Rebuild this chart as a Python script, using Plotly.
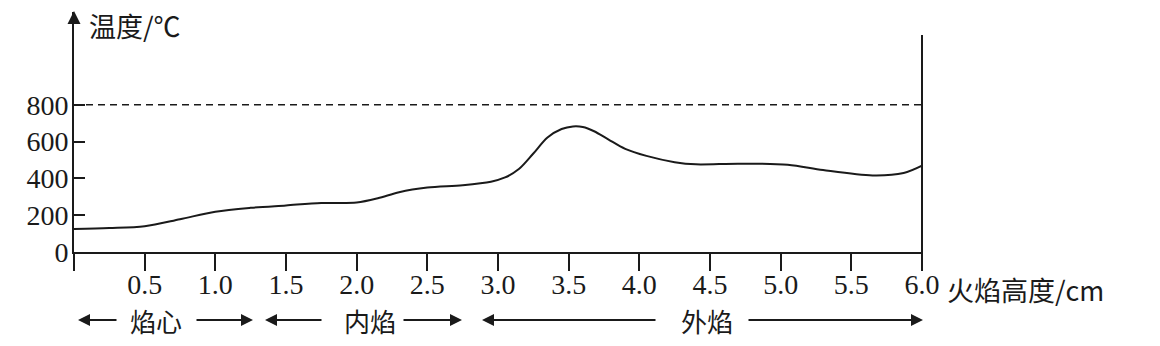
import plotly.graph_objects as go

# ---- data ----
height_cm = [0, 0.25, 0.5, 0.75, 1.0, 1.25, 1.5, 1.75, 2.0, 2.15, 2.3, 2.5, 2.75, 2.95,
             3.05, 3.15, 3.25, 3.35, 3.45, 3.53, 3.6, 3.68, 3.78, 3.9, 4.05, 4.25, 4.4,
             4.7, 5.05, 5.3, 5.65, 5.87, 6.0]
temperature = [125, 130, 140, 178, 219, 240, 253, 266, 269, 292, 325, 350, 363, 382,
               405, 452, 535, 622, 668, 682, 679, 656, 612, 560, 522, 488, 476,
               480, 474, 445, 416, 429, 469]
x_ticks = [0.5, 1.0, 1.5, 2.0, 2.5, 3.0, 3.5, 4.0, 4.5, 5.0, 5.5, 6.0]
x_tick_labels = ["0.5", "1.0", "1.5", "2.0", "2.5", "3.0", "3.5", "4.0", "4.5", "5.0", "5.5", "6.0"]
y_ticks = [0, 200, 400, 600, 800]
y_tick_labels = ["0", "200", "400", "600", "800"]
ref_temp = 800
zones = ["焰心", "内焰", "外焰"]
y_title = "温度/℃"
x_title = "火焰高度/cm"

W, H = 1160, 346
L, R_PX, T, B_PX = 74, 922, 12, 252
INK = "#1a1a1a"
SERIF = "Liberation Serif"
CJK = "Noto Sans CJK SC, Liberation Serif"


def px(xp):
    return (xp - L) / (R_PX - L)


def py(yp):
    return (B_PX - yp) / (B_PX - T)


fig = go.Figure()
fig.add_trace(go.Scatter(
    x=height_cm, y=temperature, mode="lines",
    line=dict(color=INK, width=2, shape="spline", smoothing=0.9),
    hoverinfo="skip", showlegend=False,
))

shapes = [
    dict(type="line", xref="x", yref="y", x0=0, x1=6.0, y0=ref_temp, y1=ref_temp,
         line=dict(color=INK, width=1.6, dash="7px,5px")),
    dict(type="line", xref="paper", yref="paper", x0=0, x1=0, y0=0, y1=py(271),
         line=dict(color=INK, width=2)),
    dict(type="line", xref="paper", yref="paper", x0=1, x1=1, y0=py(35), y1=py(271),
         line=dict(color=INK, width=2)),
]

annotations = [
    dict(xref="paper", yref="paper", x=0, y=py(11), ax=0, ay=14, text="",
         showarrow=True, arrowhead=2, arrowsize=1.3, arrowwidth=2, arrowcolor=INK),
    dict(xref="paper", yref="paper", x=px(87), y=py(25), xanchor="left", yanchor="middle",
         text=y_title, showarrow=False, font=dict(family=CJK, size=27, color=INK)),
    dict(xref="paper", yref="paper", x=px(945), y=py(289), xanchor="left", yanchor="middle",
         text=x_title, showarrow=False, font=dict(family=CJK, size=27, color=INK)),
]

zone_geom = [(78, 118, 156, 195, 253), (265, 323, 370, 402, 462), (482, 657, 707, 747, 923)]
ARROW_Y = 320
for name, (lt, ltail, cx, rtail, rt) in zip(zones, zone_geom):
    annotations.append(dict(xref="paper", yref="paper", x=px(lt), y=py(ARROW_Y),
                            ax=ltail - lt, ay=0, text="", showarrow=True, arrowhead=2,
                            arrowsize=1.2, arrowwidth=2, arrowcolor=INK))
    annotations.append(dict(xref="paper", yref="paper", x=px(rt), y=py(ARROW_Y),
                            ax=rtail - rt, ay=0, text="", showarrow=True, arrowhead=2,
                            arrowsize=1.2, arrowwidth=2, arrowcolor=INK))
    annotations.append(dict(xref="paper", yref="paper", x=px(cx), y=py(320),
                            xanchor="center", yanchor="middle", text=name, showarrow=False,
                            font=dict(family=CJK, size=26, color=INK)))

fig.update_layout(
    width=W, height=H,
    margin=dict(l=L, r=W - R_PX, t=T, b=H - B_PX, pad=0),
    paper_bgcolor="white", plot_bgcolor="white",
    shapes=shapes, annotations=annotations,
    xaxis=dict(range=[0, 6.0], tickvals=x_ticks, ticktext=x_tick_labels,
               showline=True, linecolor=INK, linewidth=2, mirror=False,
               ticks="outside", ticklen=17, tickwidth=2, tickcolor=INK,
               showgrid=False, zeroline=False, ticklabelstandoff=-11,
               tickfont=dict(family=SERIF, size=28, color=INK), fixedrange=True),
    yaxis=dict(range=[0, (B_PX - T) / 0.1841], tickvals=y_ticks, ticktext=y_tick_labels,
               showline=True, linecolor=INK, linewidth=2,
               ticks="inside", ticklen=11, tickwidth=2, tickcolor=INK,
               showgrid=False, zeroline=False, ticklabelstandoff=-2,
               tickfont=dict(family=SERIF, size=28, color=INK), fixedrange=True),
)

fig.write_html("out.html")
